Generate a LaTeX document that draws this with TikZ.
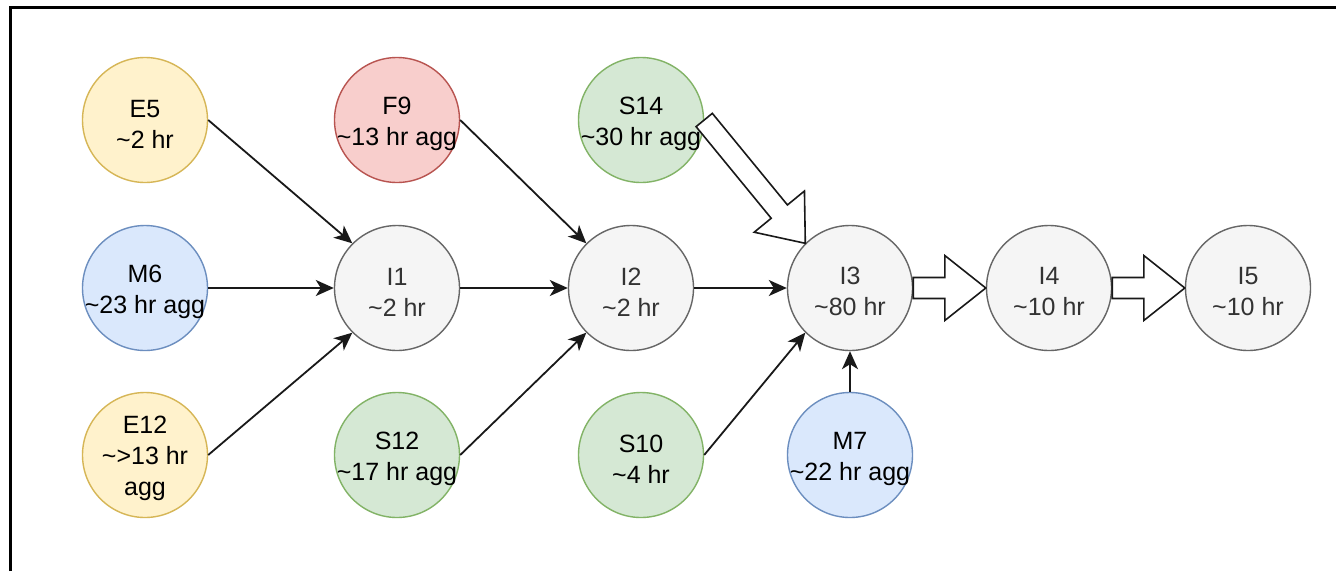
\documentclass[tikz,border=0pt]{standalone}
\usepackage{fontspec}
\setmainfont{Liberation Sans}
\usetikzlibrary{calc,arrows.meta}

\definecolor{yelFill}{HTML}{FFF2CC}\definecolor{yelLine}{HTML}{D6B656}
\definecolor{bluFill}{HTML}{DAE8FC}\definecolor{bluLine}{HTML}{6C8EBF}
\definecolor{redFill}{HTML}{F8CECC}\definecolor{redLine}{HTML}{B85450}
\definecolor{grnFill}{HTML}{D5E8D4}\definecolor{grnLine}{HTML}{82B366}
\definecolor{gryFill}{HTML}{F5F5F5}\definecolor{gryLine}{HTML}{666666}
\definecolor{gryText}{HTML}{333333}

% zero-width centred line (long labels do not enlarge the circles);
% the tall strut sets the label block a little below the circle centre
\newcommand{\zline}[1]{\makebox[0pt][c]{\rule{0pt}{25pt}#1}}

% hollow block arrow from #2 (tail) to #3 (tip); #1 names its helper point
\newcommand{\blockarrow}[3]{%
  \coordinate (#1b) at ($(#3)!41pt!(#2)$);
  \draw[blockline]
    ($(#2)!10.5pt!90:(#3)$) -- ($(#1b)!10.5pt!90:(#3)$) --
    ($(#1b)!32.5pt!90:(#3)$) -- (#3) --
    ($(#1b)!32.5pt!-90:(#3)$) -- ($(#1b)!10.5pt!-90:(#3)$) --
    ($(#2)!10.5pt!-90:(#3)$) -- cycle;
}

\begin{document}
\begin{tikzpicture}[x=1pt,y=-1pt,
  task/.style={circle,minimum size=125pt,inner sep=0pt,line width=1.4pt,
    align=center,font=\fontsize{25}{31}\selectfont},
  yel/.style={task,fill=yelFill,draw=yelLine},
  blu/.style={task,fill=bluFill,draw=bluLine},
  red/.style={task,fill=redFill,draw=redLine},
  grn/.style={task,fill=grnFill,draw=grnLine},
  gry/.style={task,fill=gryFill,draw=gryLine,text=gryText},
  link/.style={line width=1.8pt,draw=black!90,
    -{Stealth[length=18pt,width=16pt,inset=5pt]}},
  blockline/.style={line width=1.6pt,draw=black!90,fill=white,line join=miter},
  frame/.style={line width=3pt,draw=black}]

\useasboundingbox (0,0) rectangle (1336,571);
\fill[white] (0,0) rectangle (1336,571);

% frame edges
\draw[frame] (10,571) -- (10,7) -- (1336,7);

% source tasks
\node[yel] (E5)  at (145,120) {\zline{E5}\\\zline{\textasciitilde2 hr}};
\node[blu] (M6)  at (145,288) {\zline{M6}\\\zline{\textasciitilde23 hr agg}};
\node[yel] (E12) at (145,455) {\zline{E12}\\\zline{\textasciitilde>13 hr}\\\zline{agg}};
\node[red] (F9)  at (397,120) {\zline{F9}\\\zline{\textasciitilde13 hr agg}};
\node[grn] (S12) at (397,455) {\zline{S12}\\\zline{\textasciitilde17 hr agg}};
\node[grn] (S14) at (641,120) {\zline{S14}\\\zline{\textasciitilde30 hr agg}};
\node[grn] (S10) at (641,455) {\zline{S10}\\\zline{\textasciitilde4 hr}};
\node[blu] (M7)  at (850,455) {\zline{M7}\\\zline{\textasciitilde22 hr agg}};

% integration chain
\node[gry] (I1) at (397,288) {\zline{I1}\\\zline{\textasciitilde2 hr}};
\node[gry] (I2) at (631,288) {\zline{I2}\\\zline{\textasciitilde2 hr}};
\node[gry] (I3) at (850,288) {\zline{I3}\\\zline{\textasciitilde80 hr}};
\node[gry] (I4) at (1049,288) {\zline{I4}\\\zline{\textasciitilde10 hr}};
\node[gry] (I5) at (1248,288) {\zline{I5}\\\zline{\textasciitilde10 hr}};

% plain dependencies
\draw[link] (E5.east)  -- (I1.north west);
\draw[link] (M6.east)  -- (I1.west);
\draw[link] (E12.east) -- (I1.south west);
\draw[link] (F9.east)  -- (I2.north west);
\draw[link] (I1.east)  -- (I2.west);
\draw[link] (S12.east) -- (I2.south west);
\draw[link] (I2.east)  -- (I3.west);
\draw[link] (S10.east) -- (I3.south west);
\draw[link] (M7.north) -- (I3.south);

% heavy dependencies
\blockarrow{s14}{S14.east}{I3.north west}
\blockarrow{i34}{I3.east}{I4.west}
\blockarrow{i45}{I4.east}{I5.west}

\end{tikzpicture}
\end{document}
